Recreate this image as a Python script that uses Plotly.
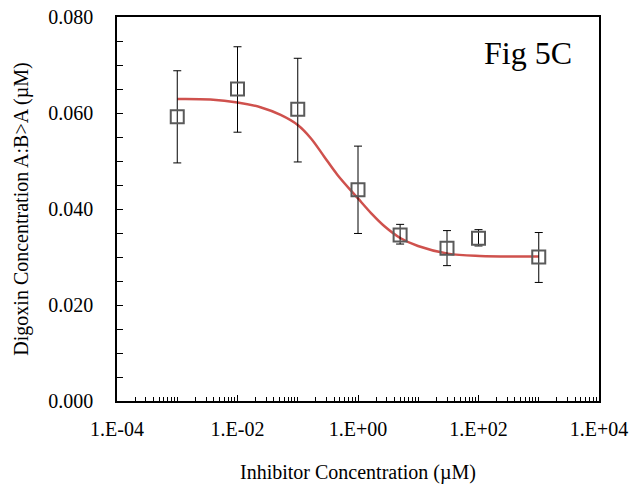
import plotly.graph_objects as go

# Data points (inhibitor concentration in µM, digoxin concentration in µM)
conc = [0.001, 0.01, 0.1, 1, 5, 30, 100, 1000]
digoxin = [0.0592, 0.0650, 0.0608, 0.0440, 0.0346, 0.0318, 0.0339, 0.0300]
err_plus = [0.0096, 0.0088, 0.0106, 0.0091, 0.0022, 0.0037, 0.0018, 0.0051]
err_minus = [0.0096, 0.0090, 0.0110, 0.0091, 0.0019, 0.0036, 0.0016, 0.0053]

# Fitted curve
fit_x = [0.001, 0.00355, 0.01, 0.024, 0.052, 0.1, 0.166, 0.275, 0.457, 1.0,
         1.66, 2.75, 5.1, 9.9, 31, 105, 1000]
fit_y = [0.0629, 0.0628, 0.0622, 0.0612, 0.0596, 0.0575, 0.0547, 0.0509, 0.0471,
         0.0422, 0.0391, 0.0364, 0.0339, 0.0323, 0.0307, 0.0302, 0.0301]

x_tickvals = [1e-4, 1e-2, 1, 1e2, 1e4]
x_ticktext = ["1.E-04", "1.E-02", "1.E+00", "1.E+02", "1.E+04"]
y_tickvals = [0.0, 0.02, 0.04, 0.06, 0.08]
y_ticktext = ["0.000", "0.020", "0.040", "0.060", "0.080"]

FONT = "Liberation Serif, Times New Roman, serif"

L, R, T, B = 117, 599, 17, 401.5
W, H = 633, 486

fig = go.Figure()
fig.add_trace(go.Scatter(
    x=fit_x, y=fit_y, mode="lines", line=dict(color="#CF514D", width=2.5, shape="spline"),
    hoverinfo="skip", showlegend=False))
fig.add_trace(go.Scatter(
    x=conc, y=digoxin, mode="markers",
    marker=dict(symbol="square-open", size=13, color="#5a5a5a", line=dict(width=2, color="#5a5a5a")),
    error_y=dict(type="data", array=err_plus, arrayminus=err_minus, symmetric=False,
                 color="black", thickness=1, width=4),
    showlegend=False))

fig.add_annotation(text="Fig 5C", x=(528 - L) / (R - L), y=(B - 53) / (B - T),
                   xref="paper", yref="paper", showarrow=False,
                   xanchor="center", yanchor="middle",
                   font=dict(family=FONT, size=32, color="black"))

fig.update_layout(
    width=W, height=H,
    margin=dict(l=L, r=W - R, t=T, b=H - B),
    paper_bgcolor="white", plot_bgcolor="white",
    font=dict(family=FONT, size=20, color="black"),
    xaxis=dict(
        type="log", range=[-4, 4], tickvals=x_tickvals, ticktext=x_ticktext,
        ticks="inside", ticklen=6, tickwidth=1, tickcolor="black",
        minor=dict(ticks="inside", ticklen=4, dtick="D1", tickcolor="black", tickwidth=1),
        showline=True, linecolor="black", linewidth=1.5, mirror=True,
        showgrid=False, zeroline=False, automargin=False,
        tickfont=dict(family=FONT, size=20), ticklabelstandoff=9,
        title=dict(text="Inhibitor Concentration (µM)", font=dict(family=FONT, size=20), standoff=26),
    ),
    yaxis=dict(
        range=[0, 0.08], tickvals=y_tickvals, ticktext=y_ticktext,
        ticks="inside", ticklen=6, tickwidth=1, tickcolor="black",
        minor=dict(ticks="inside", ticklen=6, dtick=0.005, tickcolor="black", tickwidth=1),
        showline=True, linecolor="black", linewidth=1.5, mirror=True,
        showgrid=False, zeroline=False, automargin=False,
        tickfont=dict(family=FONT, size=20), ticklabelstandoff=18,
        title=dict(text="Digoxin Concentration A:B>A (µM)", font=dict(family=FONT, size=20), standoff=14),
    ),
)

fig.write_html("out.html", config={"displayModeBar": False},
               post_script="document.body.style.margin='0px';")
